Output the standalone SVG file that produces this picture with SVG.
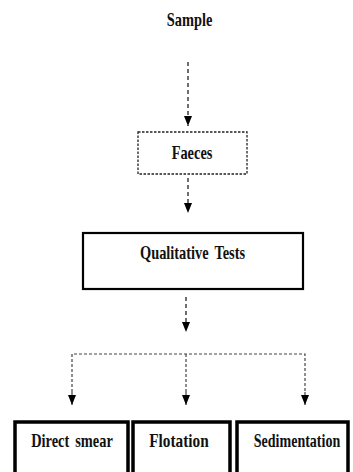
<svg xmlns="http://www.w3.org/2000/svg" width="353" height="472" viewBox="0 0 353 472">
<style>
text{font-family:"Liberation Serif","Times New Roman",serif;font-weight:bold;font-size:18px;fill:#111;text-anchor:middle}
.dash{fill:none;stroke:#222;stroke-width:1.3;stroke-dasharray:4,3}
.dline{fill:none;stroke:#444;stroke-width:1.2;stroke-dasharray:3,2}
.box{fill:#fff;stroke:#000;stroke-width:2.2}
.tbox{fill:#fff;stroke:#000;stroke-width:3.5}
</style>
<defs>
<marker id="ah" markerWidth="10" markerHeight="8" refX="10" refY="4" orient="auto" markerUnits="userSpaceOnUse" viewBox="0 0 10 8">
<path d="M0,0 L10,4 L0,8 Z" fill="#000"/>
</marker>
</defs>
<rect width="353" height="472" fill="#fff"/>
<g id="sample"><text transform="translate(189.5,26) scale(0.8,1)">Sample</text></g>
<g id="faeces"><rect x="138" y="132" width="109" height="42" class="dash" style="stroke-dasharray:2.5,1.5;stroke-width:1.3"/><text transform="translate(192,159) scale(0.8,1)">Faeces</text></g>
<g id="qual"><rect x="83" y="233" width="220" height="56" class="box"/><text transform="translate(192.5,259) scale(0.8,1)" word-spacing="3">Qualitative Tests</text></g>
<g id="direct"><rect x="15" y="422" width="113" height="60" class="tbox"/><text transform="translate(72,447) scale(0.8,1)" word-spacing="3">Direct smear</text></g>
<g id="flot"><rect x="133" y="422" width="97" height="60" class="tbox"/><text transform="translate(179,447) scale(0.85,1)">Flotation</text></g>
<g id="sed"><rect x="237" y="422" width="111" height="60" class="tbox"/><text transform="translate(297,447) scale(0.78,1)">Sedimentation</text></g>
<g id="connectors">
<line x1="188" y1="62" x2="188" y2="126" class="dash" marker-end="url(#ah)"/>
<line x1="188" y1="178" x2="188" y2="213" class="dash" marker-end="url(#ah)"/>
<line x1="186" y1="297" x2="186" y2="332" class="dash" marker-end="url(#ah)"/>
<path d="M72,392 V354 H305 V392" class="dline"/>
<line x1="186" y1="354" x2="186" y2="392" class="dline"/>
<line x1="72" y1="392" x2="72" y2="405" class="dline" marker-end="url(#ah)"/>
<line x1="186" y1="392" x2="186" y2="405" class="dline" marker-end="url(#ah)"/>
<line x1="305" y1="392" x2="305" y2="405" class="dline" marker-end="url(#ah)"/>
</g>
</svg>
